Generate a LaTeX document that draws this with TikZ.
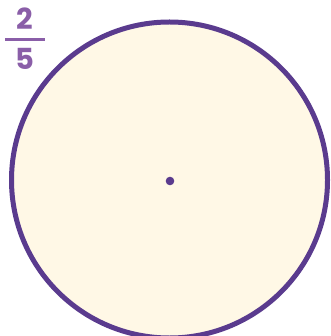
\documentclass[tikz,border=0pt]{standalone}
\usepackage{fontspec}
\setmainfont{Poppins}
\definecolor{ringpurple}{HTML}{5A3B8E}
\definecolor{fracpurple}{HTML}{8A5EA8}
\definecolor{discfill}{HTML}{FFF8E6}
\tikzset{
  ring/.style={draw=ringpurple, fill=discfill, line width=5pt},
  centerdot/.style={fill=ringpurple},
  fractext/.style={text=fracpurple, font=\fontsize{29}{29}\selectfont\bfseries, inner sep=0pt},
  fracbar/.style={draw=fracpurple, line width=3pt}
}
\begin{document}
\begin{tikzpicture}[x=1pt,y=-1pt]
\useasboundingbox (0,0) rectangle (330,336);
\begin{scope}
\clip (0,0) rectangle (330,336);
\draw[ring] (169.5,180) circle (158);
\end{scope}
\fill[centerdot] (170,181) circle (4.3);
\node[fractext] (num) at (25,19) {2};
\node[fractext] (den) at (25,59) {5};
\coordinate (barl) at (5,40);
\coordinate (barr) at (45,40);
\draw[fracbar] (barl) -- (barr);
\end{tikzpicture}
\end{document}
